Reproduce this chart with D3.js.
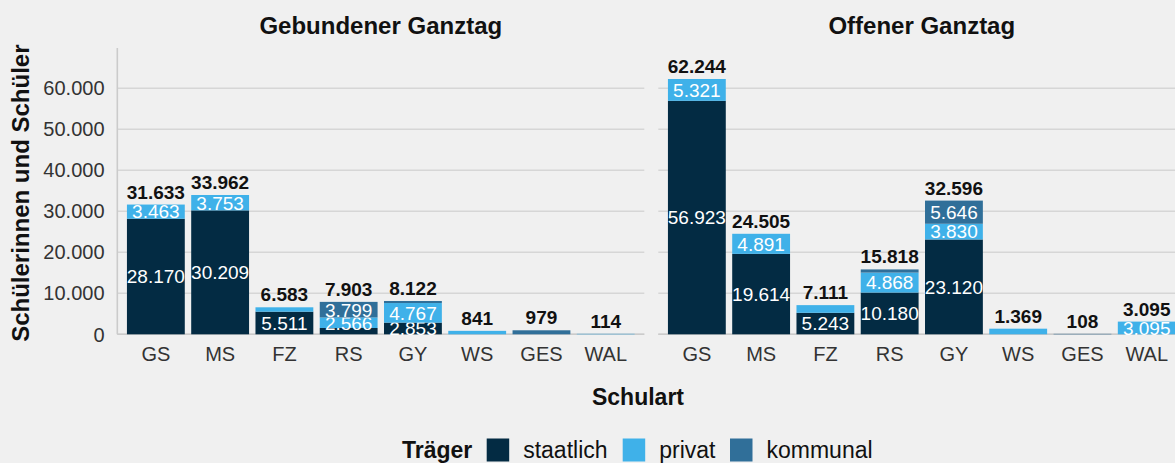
<!DOCTYPE html>
<html>
<head>
<meta charset="utf-8">
<script src="https://cdn.jsdelivr.net/npm/d3@7"></script>
<style>
  body { margin: 0; background: #f0f0f0; }
  svg { display: block; font-family: "Liberation Sans", Arial, sans-serif; }
</style>
</head>
<body>
<div id="chart"></div>
<script>
const schularten = ['GS', 'MS', 'FZ', 'RS', 'GY', 'WS', 'GES', 'WAL'];
const traeger = ['staatlich', 'privat', 'kommunal'];

// Gebundener Ganztag
const gebStaatlich = [28170, 30209, 5511, 1538, 2853, 0, 0, 0];
const gebPrivat = [3463, 3753, 1072, 2566, 4767, 841, 0, 114];
const gebKommunal = [0, 0, 0, 3799, 502, 0, 979, 0];

// Offener Ganztag
const offStaatlich = [56923, 19614, 5243, 10180, 23120, 0, 0, 0];
const offPrivat = [5321, 4891, 1868, 4868, 3830, 1369, 0, 3095];
const offKommunal = [0, 0, 0, 770, 5646, 0, 108, 0];

const yTicks = [0, 10000, 20000, 30000, 40000, 50000, 60000];

const colors = { staatlich: '#032b43', privat: '#3fb1e9', kommunal: '#306f99' };

const de = d3.formatLocale({ decimal: ',', thousands: '.', grouping: [3], currency: ['', ' €'] });
const fmt = de.format(',d');

const W = 1175, H = 463;
const svg = d3.select('#chart').append('svg').attr('width', W).attr('height', H);
svg.append('rect').attr('width', W).attr('height', H).attr('fill', '#f0f0f0');

const panelW = 527;
const plotTop = 48, plotBottom = 334.3;
const y = d3.scaleLinear().domain([0, 69800]).range([plotBottom, plotTop]);

function rows(st, pr, ko) {
    return schularten.map((s, i) => ({ schulart: s, staatlich: st[i], privat: pr[i], kommunal: ko[i] }));
}

const panels = [
    { title: 'Gebundener Ganztag', x0: 117.3, data: rows(gebStaatlich, gebPrivat, gebKommunal) },
    { title: 'Offener Ganztag', x0: 658.3, data: rows(offStaatlich, offPrivat, offKommunal) }
];

const stack = d3.stack().keys(traeger);

panels.forEach((p, pi) => {
    const g = svg.append('g').attr('transform', `translate(${p.x0},0)`);
    const x = d3.scaleBand().domain(schularten).range([0, panelW]).paddingInner(0.1).paddingOuter(0.15);

    // grid
    g.selectAll('.grid').data(yTicks).enter().append('line')
        .attr('x1', 0).attr('x2', panelW)
        .attr('y1', d => y(d)).attr('y2', d => y(d))
        .attr('stroke', '#d6d6d6').attr('stroke-width', 1.6);

    // axis lines
    g.append('line').attr('x1', 0).attr('x2', panelW).attr('y1', plotBottom).attr('y2', plotBottom)
        .attr('stroke', '#cbcbcb').attr('stroke-width', 1.6);
    if (pi === 0) {
        g.append('line').attr('x1', 0).attr('x2', 0).attr('y1', plotTop).attr('y2', plotBottom)
            .attr('stroke', '#cbcbcb').attr('stroke-width', 1.6);
    }

    // title
    g.append('text').attr('x', panelW / 2).attr('y', 34)
        .attr('text-anchor', 'middle').attr('font-size', 24).attr('font-weight', 'bold')
        .attr('fill', '#111').text(p.title);

    const series = stack(p.data);

    const layer = g.selectAll('.layer').data(series).enter().append('g')
        .attr('fill', d => colors[d.key]);

    layer.selectAll('rect').data(d => d).enter().append('rect')
        .attr('x', d => x(d.data.schulart))
        .attr('width', x.bandwidth())
        .attr('y', d => y(d[1]))
        .attr('height', d => y(d[0]) - y(d[1]));

    // segment labels
    layer.selectAll('text').data(d => d.filter(v => v[1] - v[0] > 2000)).enter().append('text')
        .attr('x', d => x(d.data.schulart) + x.bandwidth() / 2)
        .attr('y', d => y((d[0] + d[1]) / 2))
        .attr('dy', '0.36em')
        .attr('text-anchor', 'middle').attr('font-size', 19).attr('fill', '#fff')
        .text(d => fmt(d[1] - d[0]));

    // totals
    g.selectAll('.total').data(p.data).enter().append('text')
        .attr('x', d => x(d.schulart) + x.bandwidth() / 2)
        .attr('y', d => y(d.staatlich + d.privat + d.kommunal) - 6)
        .attr('text-anchor', 'middle').attr('font-size', 19).attr('font-weight', 'bold')
        .attr('fill', '#111')
        .text(d => fmt(d.staatlich + d.privat + d.kommunal));

    // x tick labels
    g.selectAll('.xt').data(schularten).enter().append('text')
        .attr('x', d => x(d) + x.bandwidth() / 2)
        .attr('y', 361)
        .attr('text-anchor', 'middle').attr('font-size', 20).attr('fill', '#333')
        .text(d => d);
});

// y tick labels
svg.selectAll('.yt').data(yTicks).enter().append('text')
    .attr('x', 104.5).attr('y', d => y(d)).attr('dy', '0.36em')
    .attr('text-anchor', 'end').attr('font-size', 20).attr('fill', '#333')
    .text(d => fmt(d));

// axis titles
svg.append('text')
    .attr('transform', `translate(28.5,${(plotTop + plotBottom) / 2 + 2}) rotate(-90)`)
    .attr('text-anchor', 'middle').attr('font-size', 24).attr('font-weight', 'bold')
    .attr('fill', '#111').text('Schülerinnen und Schüler');

svg.append('text').attr('x', 638).attr('y', 405)
    .attr('text-anchor', 'middle').attr('font-size', 23).attr('font-weight', 'bold')
    .attr('fill', '#111').text('Schulart');

// legend
const legend = svg.append('g');
legend.append('text').attr('x', 402).attr('y', 458)
    .attr('font-size', 23).attr('font-weight', 'bold').attr('fill', '#111').text('Träger');

const legendX = [486.7, 622.7, 730];
traeger.forEach((t, i) => {
    legend.append('rect').attr('x', legendX[i]).attr('y', 438.5)
        .attr('width', 22.5).attr('height', 23).attr('fill', colors[t]);
    legend.append('text').attr('x', legendX[i] + 36.5).attr('y', 458)
        .attr('font-size', 23).attr('fill', '#111').text(t);
});
</script>
</body>
</html>
